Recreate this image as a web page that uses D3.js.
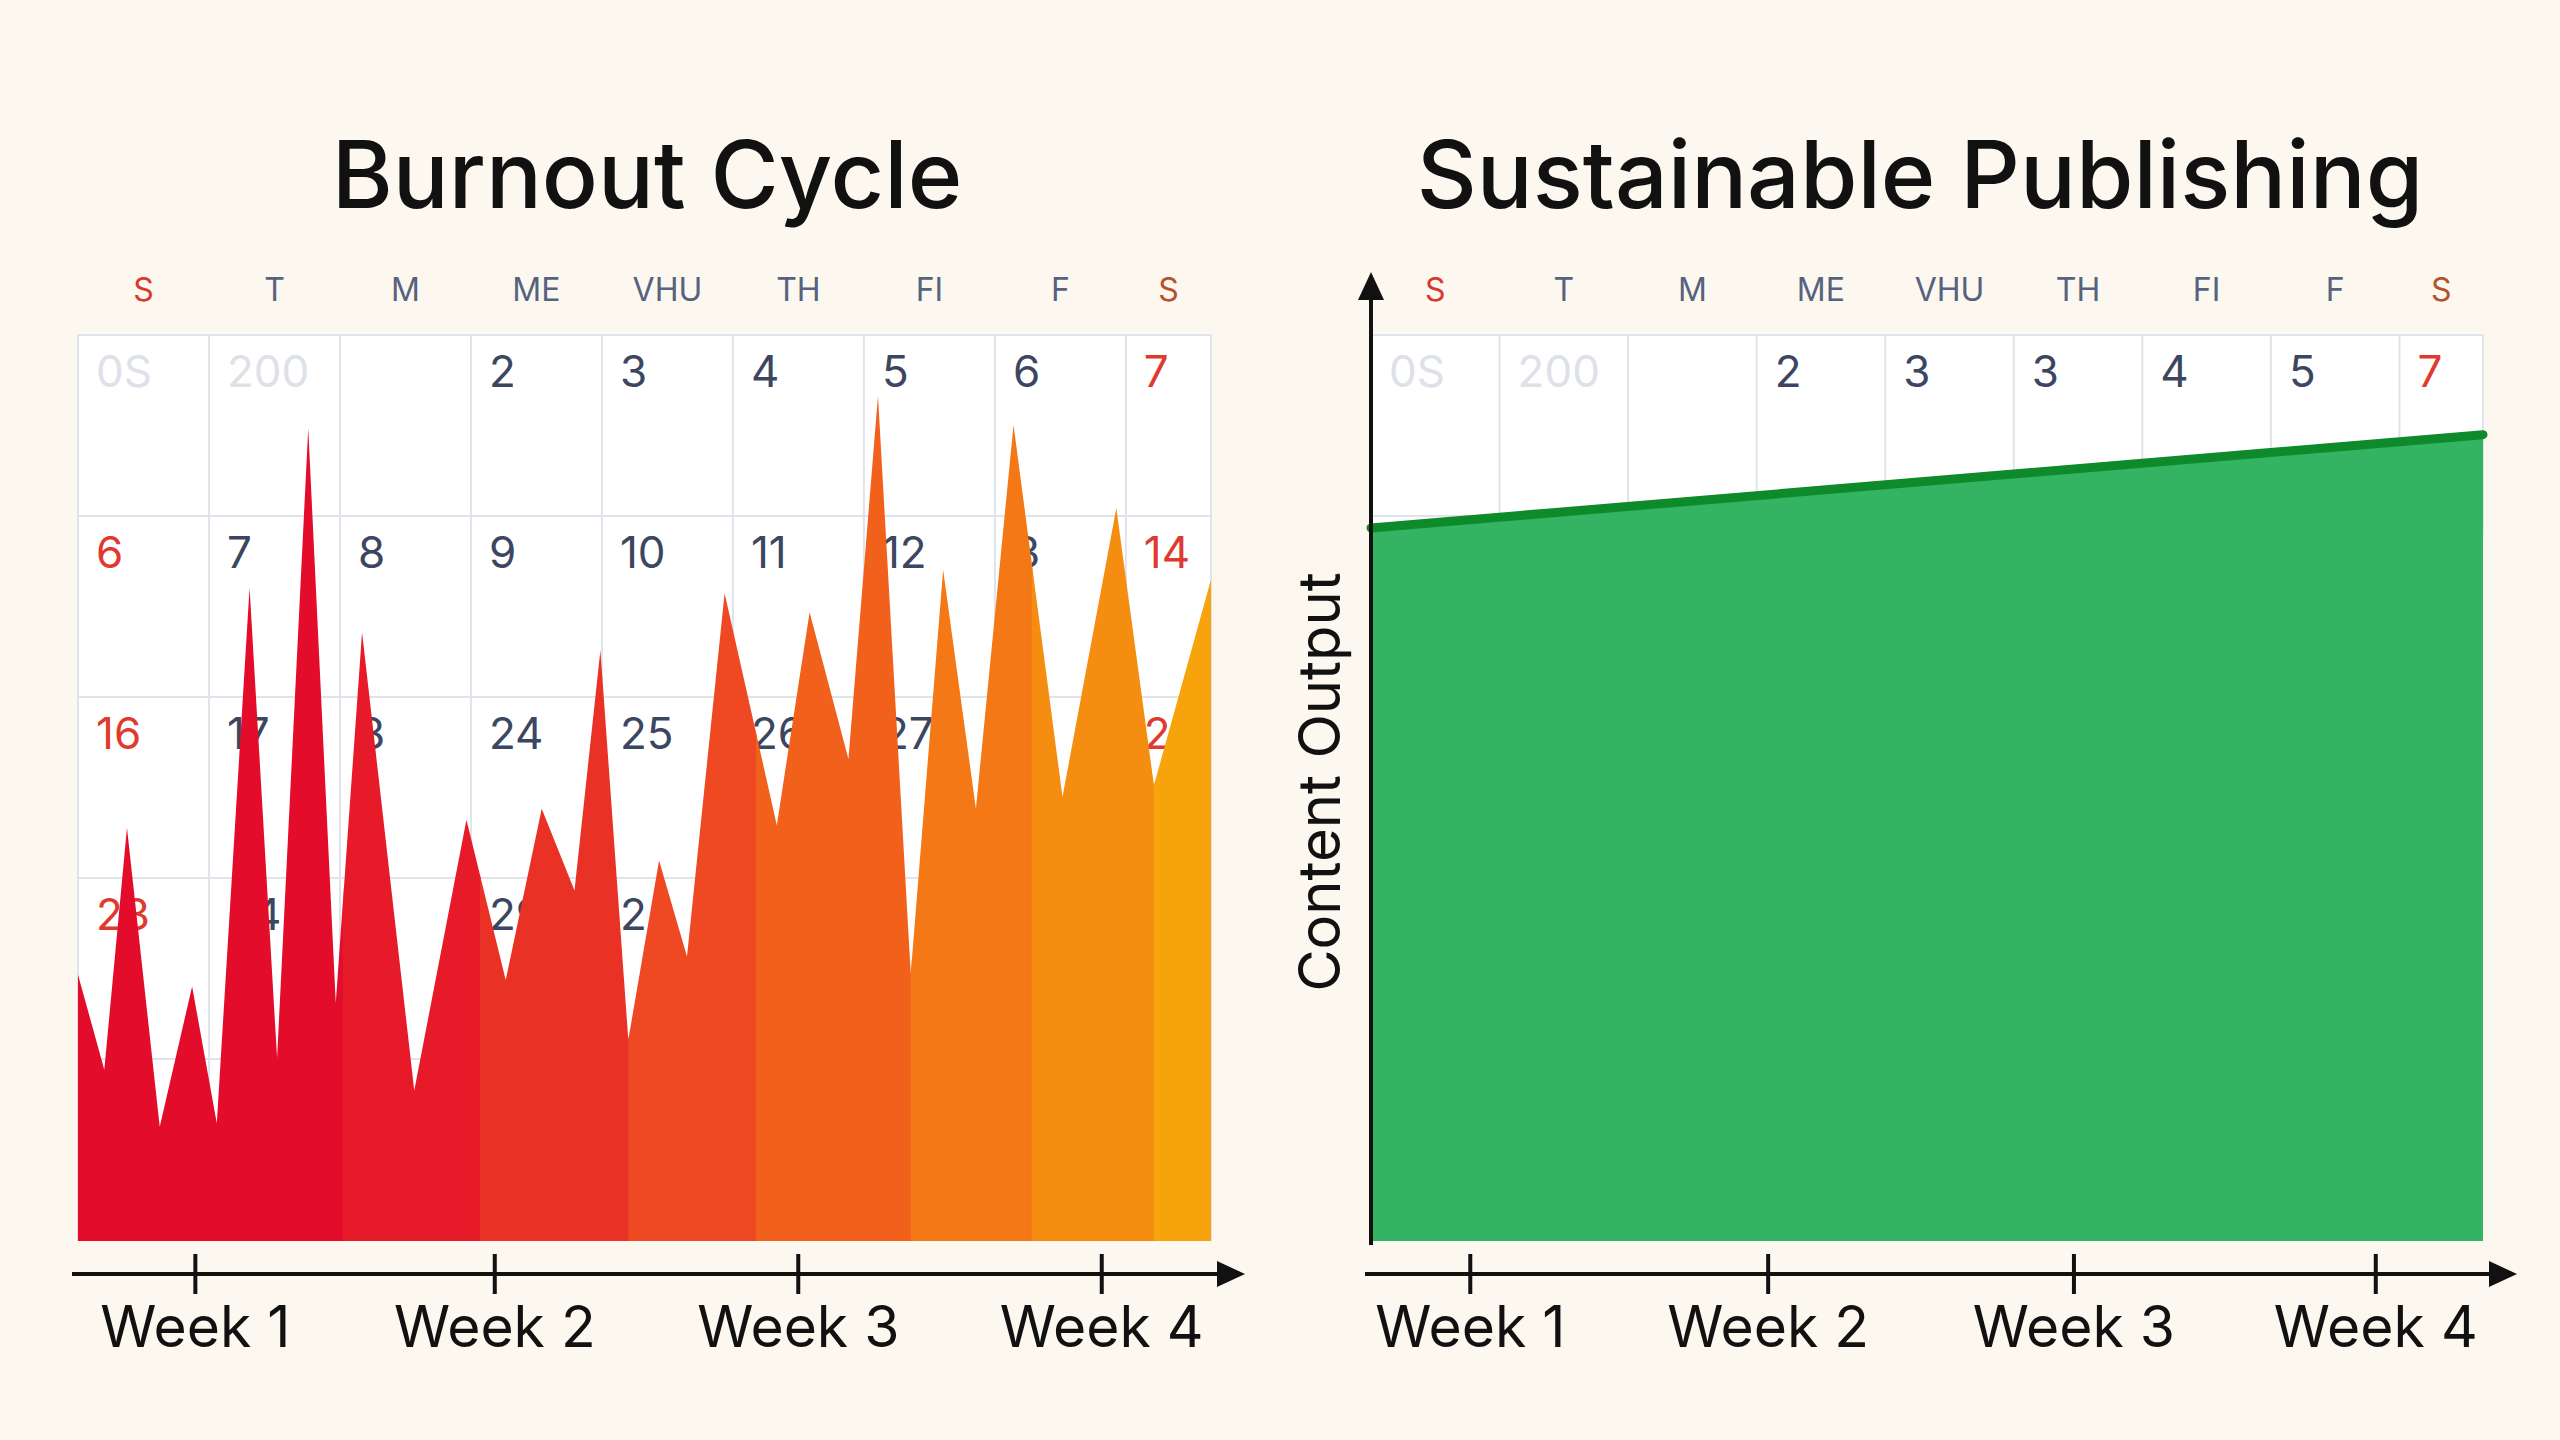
<!DOCTYPE html>
<html><head><meta charset="utf-8">
<script src="https://cdn.jsdelivr.net/npm/d3@7"></script>
<style>body{margin:0;background:#fcf8ef}</style>
</head><body>
<div id="chart"></div>
<script>
const W = 2560, H = 1440
const dayHeaders = ["S","T","M","ME","VHU","TH","FI","F","S"]
const leftCells = [
  ["0S","200","","2","3","4","5","6","7"],
  ["6","7","8","9","10","11","12","3","14"],
  ["16","17","8","24","25","26","27","0","2"],
  ["23","24","6","29","2","","","0",""],
  ["","","","","","","","",""]
]
const rightCells = [["0S","200","","2","3","3","4","5","7"]]
const weekLabels = ["Week 1","Week 2","Week 3","Week 4"]
const leftWeekDays = [2.9, 10.3, 17.8, 25.3]
const rightWeekDays = [2.5, 10.0, 17.7, 25.3]
// burnout: [day, output]
const burnDays = [0,0.65,1.21,2.02,2.82,3.43,4.24,4.92,5.69,6.37,7.02,8.31,9.6,10.57,11.46,12.27,12.91,13.6,14.36,15.05,15.98,17.27,18.08,19.04,19.77,20.58,21.38,22.19,23.12,24.33,25.66,26.59,28]
const burnVals = [29.4,18.9,45.6,12.6,28.1,13.0,72.1,20.2,89.7,26.3,67.2,16.6,46.5,28.8,47.7,38.7,65.2,22.2,42.0,31.4,71.5,45.9,69.4,53.2,93.3,29.5,74.1,47.7,90.1,49.0,80.9,50.3,73.0]
const bandEdges = [0,6.54,9.93,13.6,16.75,20.58,23.57,26.59,28]
const bandColors = ["#e30c2b","#e71a29","#ea3126","#ee4922","#f2611c","#f47816","#f58e10","#f6a30c"]
const sustDays = [0, 28]
const sustVals = [78.7, 89.0]

const svg = d3.select("#chart").append("svg").attr("width", W).attr("height", H)
svg.append("rect").attr("width", W).attr("height", H).attr("fill", "#fcf8ef")
const font = "Inter, 'Noto Sans', sans-serif"

function panel(x0, x1, title, titleX, cells, weekDays, isLeft) {
  const x = d3.scaleLinear().domain([0, 28]).range([x0, x1])
  const y = d3.scaleLinear().domain([0, 100]).range([1241, 335])
  const g = svg.append("g")
  g.append("text").attr("x", titleX).attr("y", 208).attr("text-anchor", "middle")
    .attr("font-family", font).attr("font-weight", 500).attr("font-size", 93).attr("fill", "#111").text(title)
  const cw = (x1 - x0) / 8.65
  const colX = d3.range(10).map(i => Math.min(x0 + i * cw, x1))
  const rowH = 181
  const nRows = isLeft ? 5 : 1
  const calH = isLeft ? (1241 - 335) : 200
  g.append("rect").attr("x", x0).attr("y", 335).attr("width", x1 - x0).attr("height", calH).attr("fill", "#fff")
  dayHeaders.forEach((d, i) => {
    const cx = i < 8 ? (colX[i] + colX[i + 1]) / 2 : (colX[8] + x1) / 2
    g.append("text").attr("x", cx).attr("y", 301).attr("text-anchor", "middle")
      .attr("font-family", font).attr("font-size", 32)
      .attr("fill", i == 0 ? "#d9382f" : i == 8 ? "#b5522e" : "#56627e").text(d)
  })
  for (let i = 0; i < 10; i++) g.append("line").attr("x1", colX[i]).attr("x2", colX[i]).attr("y1", 335).attr("y2", 335 + calH).attr("stroke", "#dfe3ea").attr("stroke-width", 2)
  for (let r = 0; r <= nRows; r++) g.append("line").attr("x1", x0).attr("x2", x1).attr("y1", 335 + r * rowH).attr("y2", 335 + r * rowH).attr("stroke", "#dfe3ea").attr("stroke-width", 2)
  cells.forEach((row, r) => row.forEach((t, i) => {
    const light = r == 0 && i < 2
    const red = i == 8 || (i == 0 && r > 0)
    g.append("text").attr("x", colX[i] + 18).attr("y", 335 + r * rowH + 52)
      .attr("font-family", font).attr("font-size", 44)
      .attr("fill", light ? "#dde1e8" : red ? "#e0392e" : "#3c4660").text(t)
  }))
  // axis
  const ay = 1274
  g.append("line").attr("x1", x0 - 6).attr("x2", x1 + 14).attr("y1", ay).attr("y2", ay).attr("stroke", "#111").attr("stroke-width", 4)
  g.append("path").attr("d", `M${x1 + 34},${ay} L${x1 + 6},${ay - 13} L${x1 + 6},${ay + 13} Z`).attr("fill", "#111")
  weekDays.forEach((d, i) => {
    g.append("line").attr("x1", x(d)).attr("x2", x(d)).attr("y1", ay - 20).attr("y2", ay + 20).attr("stroke", "#111").attr("stroke-width", 4)
    g.append("text").attr("x", x(d)).attr("y", 1347).attr("text-anchor", "middle")
      .attr("font-family", font).attr("font-size", 57).attr("fill", "#111").text(weekLabels[i])
  })
  return { g, x, y }
}

// left: burnout
const L = panel(78, 1211, "Burnout Cycle", 647, leftCells, leftWeekDays, true)
const burnPts = burnDays.map((d, i) => [d, burnVals[i]])
const areaL = d3.area().x(d => L.x(d[0])).y0(L.y(0)).y1(d => L.y(d[1]))
svg.append("clipPath").attr("id", "burnClip").append("path").attr("d", areaL(burnPts))
const bands = L.g.append("g").attr("clip-path", "url(#burnClip)")
bandColors.forEach((c, i) => {
  bands.append("rect").attr("x", L.x(bandEdges[i])).attr("y", L.y(100))
    .attr("width", L.x(bandEdges[i + 1]) - L.x(bandEdges[i]) + 1).attr("height", L.y(0) - L.y(100)).attr("fill", c)
})

// right: sustainable
const R = panel(1371, 2483, "Sustainable Publishing", 1920, rightCells, rightWeekDays, false)
const sustPts = sustDays.map((d, i) => [d, sustVals[i]])
R.g.append("path").attr("d", d3.area().x(d => R.x(d[0])).y0(R.y(0)).y1(d => R.y(d[1]))(sustPts)).attr("fill", "#34b463")
R.g.append("path").attr("d", d3.line().x(d => R.x(d[0])).y(d => R.y(d[1]))(sustPts))
  .attr("fill", "none").attr("stroke", "#0f8a2a").attr("stroke-width", 9).attr("stroke-linecap", "round")
// y axis
R.g.append("line").attr("x1", 1371).attr("x2", 1371).attr("y1", 1245).attr("y2", 295).attr("stroke", "#111").attr("stroke-width", 4)
R.g.append("path").attr("d", "M1371,272 L1358,300 L1384,300 Z").attr("fill", "#111")
R.g.append("text").attr("transform", "translate(1340,782) rotate(-90)").attr("text-anchor", "middle")
  .attr("font-family", font).attr("font-size", 58).attr("fill", "#111").text("Content Output")
</script>
</body></html>
